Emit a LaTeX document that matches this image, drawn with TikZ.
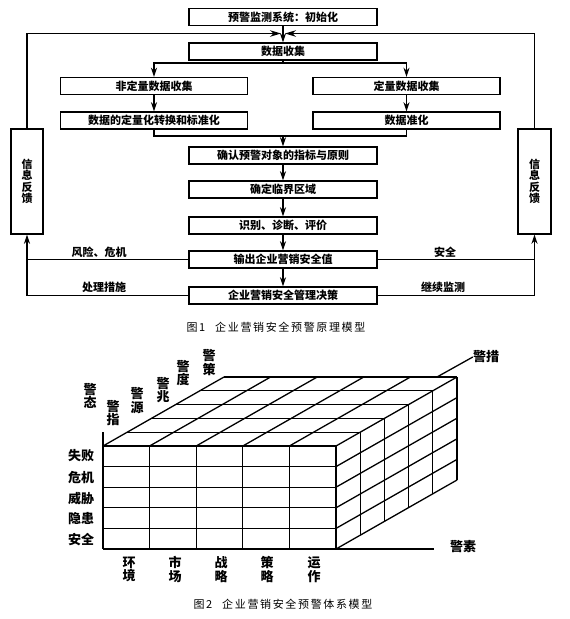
\documentclass[tikz,border=0pt]{standalone}
\usepackage{fontspec}
\setmainfont{Noto Sans CJK SC}
\newfontfamily\capfont{Noto Sans CJK SC}[LetterSpace=15]
\usetikzlibrary{arrows.meta}
\begin{document}
\begin{tikzpicture}[x=1pt,y=-1pt,
  box/.style={draw,line width=1.4pt,minimum width=188pt,minimum height=17pt,inner sep=0pt,font=\fontsize{11}{12}\selectfont\bfseries},
  fbbox/.style={draw,line width=1.4pt,minimum width=32pt,minimum height=105pt,inner sep=0pt,align=center,font=\fontsize{11}{11.5}\selectfont\bfseries},
  conn/.style={line width=1.3pt},
  arr/.style={conn,-{Stealth[length=9pt,width=6pt]}},
  harr/.style={conn,-{Stealth[length=11pt,width=6.5pt]}},
  lbl/.style={font=\fontsize{11}{12}\selectfont\bfseries,inner sep=0pt},
  grid3d/.style={line width=1.3pt},
  glbl/.style={font=\fontsize{13}{13.5}\selectfont\bfseries,inner sep=0pt,align=center},
  captext/.style={font=\capfont\fontsize{11}{12}\selectfont,inner sep=0pt},
]
\useasboundingbox (0,0) rectangle (570,619);
% ---------- Figure 1 ----------
\node[box] (b1) at (283,17) {预警监测系统：初始化};
\node[box] (b2) at (283,51.5) {数据收集};
\node[box,minimum width=187pt] (b3L) at (154,86) {非定量数据收集};
\node[box,minimum width=187pt] (b3R) at (406.5,86) {定量数据收集};
\node[box,minimum width=187pt] (b4L) at (154,120.5) {数据的定量化转换和标准化};
\node[box,minimum width=187pt] (b4R) at (406.5,120.5) {数据准化};
\node[box] (b5) at (283,155.5) {确认预警对象的指标与原则};
\node[box] (b6) at (283,189.5) {确定临界区域};
\node[box] (b7) at (283,225.5) {识别、诊断、评价};
\node[box] (b8) at (283,259.5) {输出企业营销安全值};
\node[box] (b9) at (283,295.5) {企业营销安全管理决策};
\node[fbbox] (fbL) at (27,181.5) {信\\息\\反\\馈};
\node[fbbox,minimum width=33pt] (fbR) at (534.5,181.5) {信\\息\\反\\馈};

\coordinate (top) at (283,33.5);
\coordinate (split) at (283,63);
\coordinate (join) at (283,136);
\draw[arr] (b1.south) -- (b2.north);
\draw[harr] (fbL.north) |- ([xshift=-2pt]top);
\draw[harr] (fbR.north) |- ([xshift=2pt]top);
\draw[conn] (b2.south) -- (split);
\draw[arr] (split) -| (b3L.north);
\draw[arr] (split) -| (b3R.north);
\draw[arr] (b3L.south) -- (b4L.north);
\draw[arr] (b3R.south) -- (b4R.north);
\draw[conn] (b4L.south) |- (join) -| (b4R.south);
\draw[arr] (join) -- (b5.north);
\draw[arr] (b5.south) -- (b6.north);
\draw[arr] (b6.south) -- (b7.north);
\draw[arr] (b7.south) -- (b8.north);
\draw[arr] (b8.south) -- (b9.north);
\draw[conn] (b8.west) -- (b8.west -| fbL.south);
\draw[arr] (b9.west) -| (fbL.south);
\draw[conn] (b8.east) -- (b8.east -| fbR.south);
\draw[arr] (b9.east) -| (fbR.south);
\node[lbl] (l1) at (99,252) {风险、危机};
\node[lbl] (l2) at (104,287) {处理措施};
\node[lbl] (l3) at (445,252) {安全};
\node[lbl] (l4) at (443,287) {继续监测};
\node[captext] (cap1) at (276,327) {图1\hspace{0.9em}企业营销安全预警原理模型};
% ---------- Figure 2 ----------
\foreach \i in {0,...,5} \draw[grid3d] ({103+46.6*\i},446) -- ({103+46.6*\i},549);
\foreach \j in {0,...,5} \draw[grid3d] (103,{549-20.6*\j}) -- (336,{549-20.6*\j});
\foreach \i in {0,...,5} \draw[grid3d] ({103+46.6*\i},446) -- ++(121,-69);
\foreach \k in {1,...,5} \draw[grid3d] ({103+24.2*\k},{446-13.8*\k}) -- ++(233,0);
\foreach \k in {1,...,5} \draw[grid3d] ({336+24.2*\k},{446-13.8*\k}) -- ++(0,103);
\foreach \j in {0,...,4} \draw[grid3d] (336,{549-20.6*\j}) -- ++(121,-69);
\draw[grid3d] (103,432) -- (103,446);
\node[glbl] (js) at (463,547) {警素};
\node[glbl] (jc) at (486,357) {警措};
\draw[grid3d] (336,549) -- (434,549);
\draw[grid3d] (437,377) -- (jc.west);
\node[glbl] (t1) at (90,396) {警\\态};
\node[glbl] (t2) at (113,413) {警\\指};
\node[glbl] (t3) at (137,400.5) {警\\源};
\node[glbl] (t4) at (163,390) {警\\兆};
\node[glbl] (t5) at (183,373) {警\\度};
\node[glbl] (t6) at (209,362.5) {警\\策};
\node[glbl] (r1) at (81,455.5) {失败};
\node[glbl] (r2) at (81,477.5) {危机};
\node[glbl] (r3) at (81,498.5) {威胁};
\node[glbl] (r4) at (81,519) {隐患};
\node[glbl] (r5) at (81,539.5) {安全};
\node[glbl] (c1) at (129,569.5) {环\\境};
\node[glbl] (c2) at (175,569.5) {市\\场};
\node[glbl] (c3) at (221,569.5) {战\\略};
\node[glbl] (c4) at (267,569.5) {策\\略};
\node[glbl] (c5) at (314,569.5) {运\\作};
\node[captext] (cap2) at (283,604) {图2\hspace{0.9em}企业营销安全预警体系模型};
\end{tikzpicture}
\end{document}
